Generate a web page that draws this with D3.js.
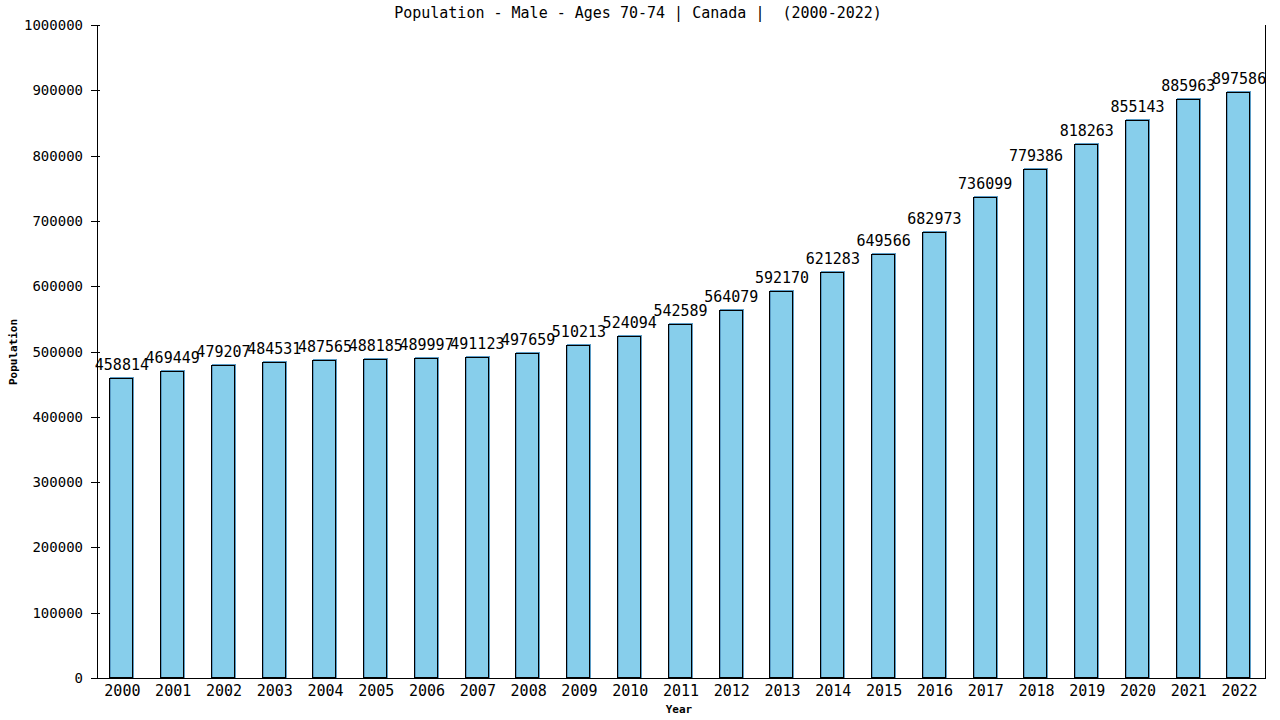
<!DOCTYPE html>
<html>
<head>
<meta charset="utf-8">
<script src="https://cdn.jsdelivr.net/npm/d3@7"></script>
<style>
  html, body { margin: 0; padding: 0; background: #fff; }
  svg { display: block; }
  text { font-family: "DejaVu Sans Mono", "Liberation Mono", monospace; fill: #000; }
</style>
</head>
<body>
<svg id="chart" width="1280" height="720"></svg>
<script>
const titleText = "Population - Male - Ages 70-74 | Canada |  (2000-2022)";
const xTitle = "Year";
const yTitle = "Population";
const years = ["2000","2001","2002","2003","2004","2005","2006","2007","2008","2009","2010","2011",
               "2012","2013","2014","2015","2016","2017","2018","2019","2020","2021","2022"];
const values = [458814, 469449, 479207, 484531, 487565, 488185, 489997, 491123, 497659, 510213, 524094, 542589,
                564079, 592170, 621283, 649566, 682973, 736099, 779386, 818263, 855143, 885963, 897586];
const yTicks = [0, 100000, 200000, 300000, 400000, 500000, 600000, 700000, 800000, 900000, 1000000];

(function () {
const svg = d3.select("#chart");
const pLeft = 97, pRight = 1265, pTop = 25, pBottom = 678;

const x = d3.scaleBand().domain(years).range([pLeft, pRight]).paddingInner(0.52).paddingOuter(0.26);
const y = d3.scaleLinear().domain([0, 1000000]).range([pBottom, pTop]);

// title
svg.append("text").attr("x", 638).attr("y", 18).attr("text-anchor", "middle")
  .attr("xml:space", "preserve").style("white-space", "pre")
  .style("font-size", "15px").text(titleText);

// bars
const data = years.map((yr, i) => ({ yr, v: values[i] }));
const g = svg.append("g");
g.selectAll("rect.fill").data(data).join("rect")
  .attr("class", "fill")
  .attr("x", d => Math.round(x(d.yr)) + 0.5)
  .attr("y", d => Math.round(y(d.v)) - 0.5)
  .attr("width", 23)
  .attr("height", d => pBottom - Math.round(y(d.v)))
  .attr("fill", "#87CEEB")
  .attr("stroke", "#5b9cc6")
  .attr("stroke-width", 1);
g.selectAll("rect.outline").data(data).join("rect")
  .attr("class", "outline")
  .attr("x", d => Math.round(x(d.yr)) - 0.5)
  .attr("y", d => Math.round(y(d.v)) + 0.5)
  .attr("width", 23)
  .attr("height", d => pBottom - Math.round(y(d.v)) - 1)
  .attr("fill", "none")
  .attr("stroke", "#000")
  .attr("stroke-width", 1);

// value labels
svg.append("g").selectAll("text").data(data).join("text")
  .attr("x", d => x(d.yr) + x.bandwidth() / 2 - 0.5)
  .attr("y", d => y(d.v) - 8)
  .attr("text-anchor", "middle")
  .style("font-size", "15px")
  .text(d => d.v);

// axes lines
svg.append("line").attr("x1", pLeft + 0.5).attr("x2", pLeft + 0.5).attr("y1", pTop).attr("y2", pBottom)
  .attr("stroke", "#000");
svg.append("line").attr("x1", pRight + 0.5).attr("x2", pRight + 0.5).attr("y1", pTop).attr("y2", pBottom)
  .attr("stroke", "#000");
svg.append("line").attr("x1", 91).attr("x2", pRight + 1).attr("y1", pBottom + 0.5).attr("y2", pBottom + 0.5)
  .attr("stroke", "#000");

// y ticks
const yAxis = svg.append("g");
yAxis.selectAll("line").data(yTicks).join("line")
  .attr("x1", 91).attr("x2", 100)
  .attr("y1", d => Math.round(y(d)) + 0.5).attr("y2", d => Math.round(y(d)) + 0.5)
  .attr("stroke", "#000");
yAxis.selectAll("text").data(yTicks).join("text")
  .attr("x", 83).attr("y", d => y(d) + 5)
  .attr("text-anchor", "end")
  .style("font-size", "14px")
  .text(d => d);

// x tick labels
svg.append("g").selectAll("text").data(years).join("text")
  .attr("x", d => x(d) + x.bandwidth() / 2)
  .attr("y", 696)
  .attr("text-anchor", "middle")
  .style("font-size", "15px")
  .text(d => d);

// axis titles
svg.append("text").attr("x", 679).attr("y", 713).attr("text-anchor", "middle")
  .style("font-size", "11px").style("font-weight", "bold").text(xTitle);
svg.append("text").attr("transform", "translate(17,352) rotate(-90)").attr("text-anchor", "middle")
  .style("font-size", "11px").style("font-weight", "bold").text(yTitle);
})();
</script>
</body>
</html>
